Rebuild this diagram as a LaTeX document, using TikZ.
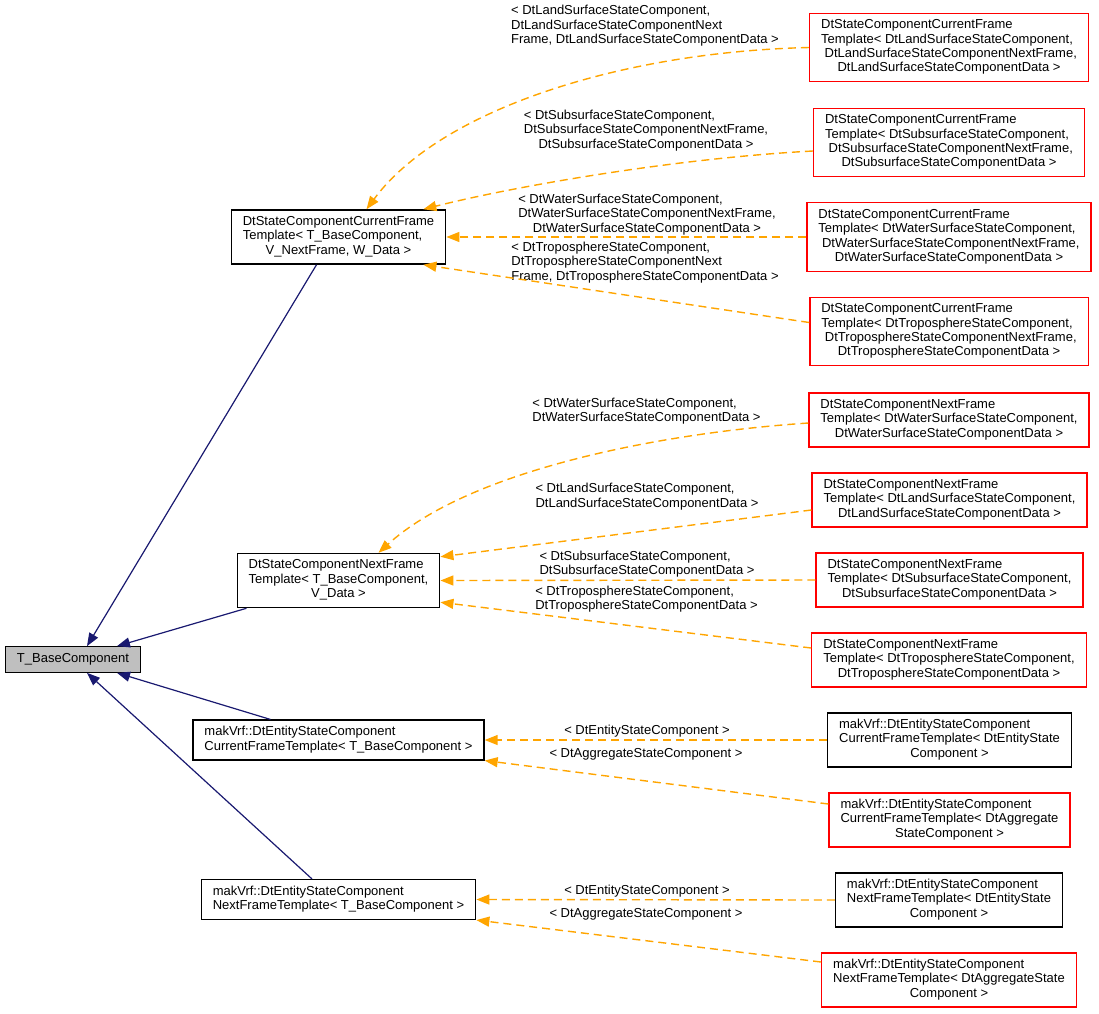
\documentclass[tikz,border=0pt]{standalone}
\usepackage{fontspec}
\setmainfont{Liberation Sans}
\usetikzlibrary{arrows.meta}
\definecolor{midblue}{HTML}{191970}
\definecolor{dorange}{HTML}{FFA500}
\newcommand{\clsname}[2]{\begin{tabular}{@{}l@{}}#1\\\multicolumn{1}{@{}c@{}}{#2}\end{tabular}}
\newcommand{\oneline}[1]{\begin{tabular}{@{}c@{}}#1\end{tabular}}

\begin{document}
\begin{tikzpicture}[x=1pt,y=-1pt,font=\fontsize{13}{14.4}\selectfont,
  box/.style={draw=black,fill=white,line width=1.3pt,inner xsep=11.5pt,inner ysep=5.5pt},
  redbox/.style={box,draw=red},
  basebox/.style={box,fill=black!25},
  lab/.style={inner sep=0pt},
  inh/.style={draw=midblue,line width=1.2pt,-{Triangle[length=13pt,width=10pt]}},
  dep/.style={draw=dorange,line width=1.4pt,dash pattern=on 8pt off 5pt,-{Triangle[length=13pt,width=10pt]}}]
\useasboundingbox (0,0) rectangle (1099,1013);
\node[basebox] (base) at (73,659.5) {\oneline{T\_BaseComponent}};
\node[box] (cur) at (338.5,237) {\clsname{DtStateComponentCurrentFrame\\Template< T\_BaseComponent,}{V\_NextFrame, W\_Data >}};
\node[box] (next) at (338.5,580.5) {\clsname{DtStateComponentNextFrame\\Template< T\_BaseComponent,}{V\_Data >}};
\node[box] (entcur) at (338.5,740) {\clsname{makVrf::DtEntityStateComponent}{CurrentFrameTemplate< T\_BaseComponent >}};
\node[box] (entnext) at (338.5,899.5) {\clsname{makVrf::DtEntityStateComponent}{NextFrameTemplate< T\_BaseComponent >}};
\node[redbox] (c1) at (949,47.5) {\clsname{DtStateComponentCurrentFrame\\Template< DtLandSurfaceStateComponent,\\\ DtLandSurfaceStateComponentNextFrame,}{DtLandSurfaceStateComponentData >}};
\node[redbox] (c2) at (949,142.5) {\clsname{DtStateComponentCurrentFrame\\Template< DtSubsurfaceStateComponent,\\\ DtSubsurfaceStateComponentNextFrame,}{DtSubsurfaceStateComponentData >}};
\node[redbox] (c3) at (949,237) {\clsname{DtStateComponentCurrentFrame\\Template< DtWaterSurfaceStateComponent,\\\ DtWaterSurfaceStateComponentNextFrame,}{DtWaterSurfaceStateComponentData >}};
\node[redbox] (c4) at (949,331.5) {\clsname{DtStateComponentCurrentFrame\\Template< DtTroposphereStateComponent,\\\ DtTroposphereStateComponentNextFrame,}{DtTroposphereStateComponentData >}};
\node[redbox] (n1) at (949,420) {\clsname{DtStateComponentNextFrame\\Template< DtWaterSurfaceStateComponent,}{DtWaterSurfaceStateComponentData >}};
\node[redbox] (n2) at (949.5,500) {\clsname{DtStateComponentNextFrame\\Template< DtLandSurfaceStateComponent,}{DtLandSurfaceStateComponentData >}};
\node[redbox] (n3) at (949.5,580) {\clsname{DtStateComponentNextFrame\\Template< DtSubsurfaceStateComponent,}{DtSubsurfaceStateComponentData >}};
\node[redbox] (n4) at (949,660) {\clsname{DtStateComponentNextFrame\\Template< DtTroposphereStateComponent,}{DtTroposphereStateComponentData >}};
\node[box] (e1) at (949.5,740) {\clsname{makVrf::DtEntityStateComponent\\CurrentFrameTemplate< DtEntityState}{Component >}};
\node[redbox] (e2) at (949.5,820) {\clsname{makVrf::DtEntityStateComponent\\CurrentFrameTemplate< DtAggregate}{StateComponent >}};
\node[box] (e3) at (949,900) {\clsname{makVrf::DtEntityStateComponent\\NextFrameTemplate< DtEntityState}{Component >}};
\node[redbox] (e4) at (949,980) {\clsname{makVrf::DtEntityStateComponent\\NextFrameTemplate< DtAggregateState}{Component >}};
\node[lab] (l1) at (645,26.3) {\clsname{< DtLandSurfaceStateComponent,\\DtLandSurfaceStateComponentNext}{Frame, DtLandSurfaceStateComponentData >}};
\node[lab] (l2) at (646,131) {\clsname{< DtSubsurfaceStateComponent,\\DtSubsurfaceStateComponentNextFrame,}{DtSubsurfaceStateComponentData >}};
\node[lab] (l3) at (647,215) {\clsname{< DtWaterSurfaceStateComponent,\\DtWaterSurfaceStateComponentNextFrame,}{DtWaterSurfaceStateComponentData >}};
\node[lab] (l4) at (645,263) {\clsname{< DtTroposphereStateComponent,\\DtTroposphereStateComponentNext}{Frame, DtTroposphereStateComponentData >}};
\node[lab] (l5) at (646.5,411.5) {\clsname{< DtWaterSurfaceStateComponent,}{DtWaterSurfaceStateComponentData >}};
\node[lab] (l6) at (647,497) {\clsname{< DtLandSurfaceStateComponent,}{DtLandSurfaceStateComponentData >}};
\node[lab] (l7) at (647,564.5) {\clsname{< DtSubsurfaceStateComponent,}{DtSubsurfaceStateComponentData >}};
\node[lab] (l8) at (646.5,599.5) {\clsname{< DtTroposphereStateComponent,}{DtTroposphereStateComponentData >}};
\node[lab] (l9) at (647,732) {\oneline{< DtEntityStateComponent >}};
\node[lab] (l10) at (646,755) {\oneline{< DtAggregateStateComponent >}};
\node[lab] (l11) at (647,892) {\oneline{< DtEntityStateComponent >}};
\node[lab] (l12) at (646,915) {\oneline{< DtAggregateStateComponent >}};
\draw[inh] ([xshift=-22]cur.south) -- ([xshift=14]base.north);
\draw[inh] ([xshift=-92]next.south) -- ([xshift=44]base.north);
\draw[inh] ([xshift=-68]entcur.north) -- ([xshift=44]base.south);
\draw[inh] ([xshift=-26.5]entnext.north) -- ([xshift=14]base.south);
\draw[dep] (c1.west) .. controls (620,52) and (440,110) .. ([xshift=28]cur.north);
\draw[dep] ([yshift=-8.5]c2.west) .. controls (680,158) and (520,185) .. ([xshift=-23]cur.north east);
\draw[dep] (c3.west) -- (cur.east);
\draw[dep] ([yshift=9]c4.west) -- ([xshift=-23]cur.south east);
\draw[dep] ([yshift=-3]n1.west) .. controls (660,433) and (470,470) .. ([xshift=40]next.north);
\draw[dep] ([yshift=-10]n2.west) -- ([yshift=-4]next.north east);
\draw[dep] (n3.west) -- (next.east);
\draw[dep] ([yshift=12]n4.west) -- ([yshift=6]next.south east);
\draw[dep] (e1.west) -- (entcur.east);
\draw[dep] ([yshift=16]e2.west) -- (entcur.south east);
\draw[dep] (e3.west) -- (entnext.east);
\draw[dep] ([yshift=18]e4.west) -- (entnext.south east);
\end{tikzpicture}
\end{document}
